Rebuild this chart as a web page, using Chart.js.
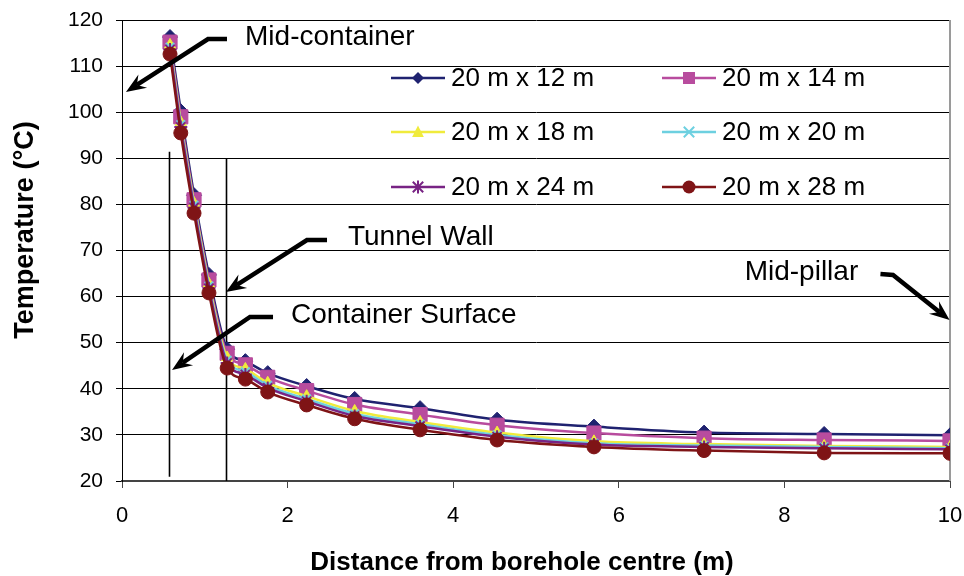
<!DOCTYPE html>
<html><head><meta charset="utf-8">
<script src="https://cdn.jsdelivr.net/npm/chart.js"></script>
<style>html,body{margin:0;padding:0;background:#fff}#wrap{width:964px;height:576px;position:relative}</style>
</head><body><div id="wrap"><canvas id="c" width="964" height="576"></canvas></div>
<script>
// ---- data ----
const distances = [0.58,0.71,0.87,1.05,1.27,1.49,1.76,2.23,2.81,3.60,4.53,5.70,7.03,8.48,10];
const t12 = [116.3,100.2,82.0,64.7,48.6,46.0,43.4,40.6,37.8,35.8,33.3,31.8,30.5,30.2,29.9];
const t14 = [115.2,99.0,81.0,63.6,47.7,45.2,42.5,39.6,36.6,34.4,32.1,30.4,29.3,28.9,28.7];
const t18 = [114.6,97.8,80.3,62.8,46.8,44.3,41.3,38.4,35.2,32.8,30.5,28.6,28.0,27.6,27.4];
const t20 = [114.1,97.3,79.8,62.3,46.2,43.7,40.7,37.8,34.6,32.3,30.0,28.2,27.7,27.4,27.1];
const t24 = [113.6,96.8,79.3,61.8,45.6,43.1,40.2,37.3,34.1,31.9,29.6,27.9,27.4,27.1,26.9];
const t28 = [112.6,95.5,78.1,60.8,44.5,42.1,39.3,36.5,33.5,31.1,28.9,27.4,26.6,26.1,26.0];
const seriesLabels = ['20 m x 12 m','20 m x 14 m','20 m x 18 m','20 m x 20 m','20 m x 24 m','20 m x 28 m'];
const xTicks = [0,2,4,6,8,10];
const yTicks = [20,30,40,50,60,70,80,90,100,110,120];
const containerSurfaceX = 0.568;
const tunnelWallX = 1.252;
const xTitle = 'Distance from borehole centre (m)';
const yTitle = 'Temperature (°C)';
const annotationLabels = ['Mid-container','Tunnel Wall','Container Surface','Mid-pillar'];

// ---- styling ----
const FONT = '"Liberation Sans", Arial, Helvetica, sans-serif';
const seriesValues = [t12,t14,t18,t20,t24,t28];
const styles = [
  {color:'#1F2270', shape:'diamond', r:7.5, lr:6},
  {color:'#B84C9E', shape:'square',  r:10,  lr:8.5},
  {color:'#F0EB3C', shape:'triangle',r:6.5, lr:6.5},
  {color:'#6DD0E0', shape:'cross',   r:6,   lr:6.5},
  {color:'#782384', shape:'star',    r:6.5, lr:6.5},
  {color:'#7F1416', shape:'circle',  r:7,   lr:6.5}
];
const cjsShape = {diamond:'rectRot', square:'rect', triangle:'triangle', cross:'crossRot', star:'star', circle:'circle'};

function drawMarker(ctx, shape, cx, cy, r, color) {
  ctx.save();
  ctx.fillStyle = color; ctx.strokeStyle = color; ctx.lineWidth = 2;
  ctx.beginPath();
  if (shape === 'diamond') {
    ctx.moveTo(cx, cy - r); ctx.lineTo(cx + r, cy); ctx.lineTo(cx, cy + r); ctx.lineTo(cx - r, cy); ctx.closePath(); ctx.fill();
  } else if (shape === 'square') {
    const s = r * Math.SQRT1_2; ctx.rect(cx - s, cy - s, 2 * s, 2 * s); ctx.fill();
  } else if (shape === 'triangle') {
    ctx.moveTo(cx, cy - r); ctx.lineTo(cx + r * 0.9, cy + r * 0.75); ctx.lineTo(cx - r * 0.9, cy + r * 0.75); ctx.closePath(); ctx.fill();
  } else if (shape === 'cross') {
    const s = r * 0.8;
    ctx.moveTo(cx - s, cy - s); ctx.lineTo(cx + s, cy + s); ctx.moveTo(cx + s, cy - s); ctx.lineTo(cx - s, cy + s); ctx.stroke();
  } else if (shape === 'star') {
    const s = r * 0.8;
    ctx.moveTo(cx - s, cy - s); ctx.lineTo(cx + s, cy + s); ctx.moveTo(cx + s, cy - s); ctx.lineTo(cx - s, cy + s);
    ctx.moveTo(cx, cy - r); ctx.lineTo(cx, cy + r); ctx.stroke();
  } else {
    ctx.arc(cx, cy, r, 0, Math.PI * 2); ctx.fill();
  }
  ctx.restore();
}

function arrowPath(ctx, pts) {
  const n = pts.length;
  const [tx, ty] = pts[n - 1], [px, py] = pts[n - 2];
  const len = Math.hypot(tx - px, ty - py);
  const dx = (tx - px) / len, dy = (ty - py) / len;
  const nx = -dy, ny = dx;
  const L = 20, W = 8, notch = 13;
  ctx.save();
  ctx.strokeStyle = '#000'; ctx.fillStyle = '#000'; ctx.lineWidth = 4.5; ctx.lineJoin = 'miter';
  ctx.beginPath();
  ctx.moveTo(pts[0][0], pts[0][1]);
  for (let i = 1; i < n - 1; i++) ctx.lineTo(pts[i][0], pts[i][1]);
  ctx.lineTo(tx - dx * notch, ty - dy * notch);
  ctx.stroke();
  ctx.beginPath();
  ctx.moveTo(tx, ty);
  ctx.lineTo(tx - dx * L + nx * W, ty - dy * L + ny * W);
  ctx.lineTo(tx - dx * notch, ty - dy * notch);
  ctx.lineTo(tx - dx * L - nx * W, ty - dy * L - ny * W);
  ctx.closePath(); ctx.fill();
  ctx.restore();
}

const extras = {
  id: 'extras',
  beforeDatasetsDraw(chart) {
    const {ctx, scales: {x, y}} = chart;
    ctx.save();
    ctx.strokeStyle = '#000'; ctx.lineWidth = 1.6;
    [[containerSurfaceX, 91.4, 20.9], [tunnelWallX, 90.0, 20]].forEach(([vx, y1, y2]) => {
      const px = Math.round(x.getPixelForValue(vx)) + 0.5;
      ctx.beginPath(); ctx.moveTo(px, y.getPixelForValue(y1)); ctx.lineTo(px, y.getPixelForValue(y2)); ctx.stroke();
    });
    const a = chart.chartArea;
    ctx.strokeStyle = '#9a9a9a'; ctx.lineWidth = 2;
    ctx.beginPath(); ctx.moveTo(a.right, a.top); ctx.lineTo(a.right, a.bottom); ctx.stroke();
    ctx.restore();
  },
  afterDraw(chart) {
    const {ctx, scales: {x, y}} = chart;
    const P = (vx, vy) => [x.getPixelForValue(vx), y.getPixelForValue(vy)];
    arrowPath(ctx, [P(1.268,115.88), P(1.039,115.88), P(0.048,104.38)]);
    arrowPath(ctx, [P(2.476,72.28), P(2.234,72.28), P(1.256,61.0)]);
    arrowPath(ctx, [P(1.824,55.58), P(1.546,55.58), P(0.604,44.08)]);
    arrowPath(ctx, [P(9.160,64.9), P(9.312,64.7), P(9.995,54.92)]);
    ctx.save();
    ctx.fillStyle = '#000'; ctx.font = '28px ' + FONT; ctx.textAlign = 'left'; ctx.textBaseline = 'alphabetic';
    const tpos = [[1.486,114.58],[2.729,71.19],[2.041,54.27],[7.52,63.6]];
    annotationLabels.forEach((t, i) => { const [px, py] = P(tpos[i][0], tpos[i][1]); ctx.fillText(t, px, py); });
    ctx.font = '26px ' + FONT; ctx.textBaseline = 'middle';
    const cols = [391, 662], rows = [78, 132, 187];
    seriesLabels.forEach((lab, i) => {
      const cx = cols[i % 2], cy = rows[Math.floor(i / 2)];
      const st = styles[i];
      ctx.strokeStyle = st.color; ctx.lineWidth = 2.5;
      ctx.beginPath(); ctx.moveTo(cx, cy); ctx.lineTo(cx + 54, cy); ctx.stroke();
      drawMarker(ctx, st.shape, cx + 27, cy, st.lr, st.color);
      ctx.fillStyle = '#000';
      ctx.fillText(lab, cx + 60, cy + 1);
    });
    ctx.font = 'bold 26px ' + FONT; ctx.textAlign = 'center'; ctx.textBaseline = 'alphabetic';
    ctx.fillText(xTitle, 522, 570);
    ctx.save();
    ctx.translate(33, 230); ctx.rotate(-Math.PI / 2);
    ctx.font = 'bold 27px ' + FONT;
    ctx.fillText(yTitle, 0, 0);
    ctx.restore();
    ctx.restore();
  }
};

const datasets = seriesValues.map((vals, i) => ({
  label: seriesLabels[i],
  data: distances.map((d, j) => ({x: d, y: vals[j]})),
  borderColor: styles[i].color,
  backgroundColor: styles[i].color,
  borderWidth: 2.5,
  pointStyle: cjsShape[styles[i].shape],
  pointRadius: styles[i].r,
  pointBorderWidth: (styles[i].shape === 'cross' || styles[i].shape === 'star') ? 2 : 1,
  pointBorderColor: styles[i].color,
  pointBackgroundColor: styles[i].color,
  showLine: true,
  fill: false,
  cubicInterpolationMode: 'monotone',
  order: 6 - i
}));

new Chart(document.getElementById('c'), {
  type: 'scatter',
  data: {datasets},
  options: {
    responsive: false,
    animation: false,
    devicePixelRatio: 1,
    layout: {padding: {top: 20, right: 14, left: 0, bottom: 0}},
    plugins: {legend: {display: false}, tooltip: {enabled: false}},
    scales: {
      x: {
        type: 'linear', min: 0, max: 10,
        afterBuildTicks: s => { s.ticks = xTicks.map(v => ({value: v})); },
        afterFit: s => { s.height = 95; s.paddingLeft = 0; s.paddingRight = 0; },
        ticks: {font: {family: FONT, size: 22}, color: '#000', padding: 15},
        grid: {drawOnChartArea: false, drawTicks: true, tickLength: 7, color: '#444', lineWidth: 1},
        border: {color: '#444', width: 2},
        title: {display: false}
      },
      y: {
        type: 'linear', min: 20, max: 120,
        afterBuildTicks: s => { s.ticks = yTicks.map(v => ({value: v})); },
        afterFit: s => { s.width = 122; s.paddingTop = 0; s.paddingBottom = 0; },
        ticks: {font: {family: FONT, size: 21}, color: '#000', padding: 13},
        grid: {color: '#000', lineWidth: 1, tickLength: 6, drawTicks: true},
        border: {color: '#000', width: 1},
        title: {display: false}
      }
    }
  },
  plugins: [extras]
});
</script>
</body></html>
